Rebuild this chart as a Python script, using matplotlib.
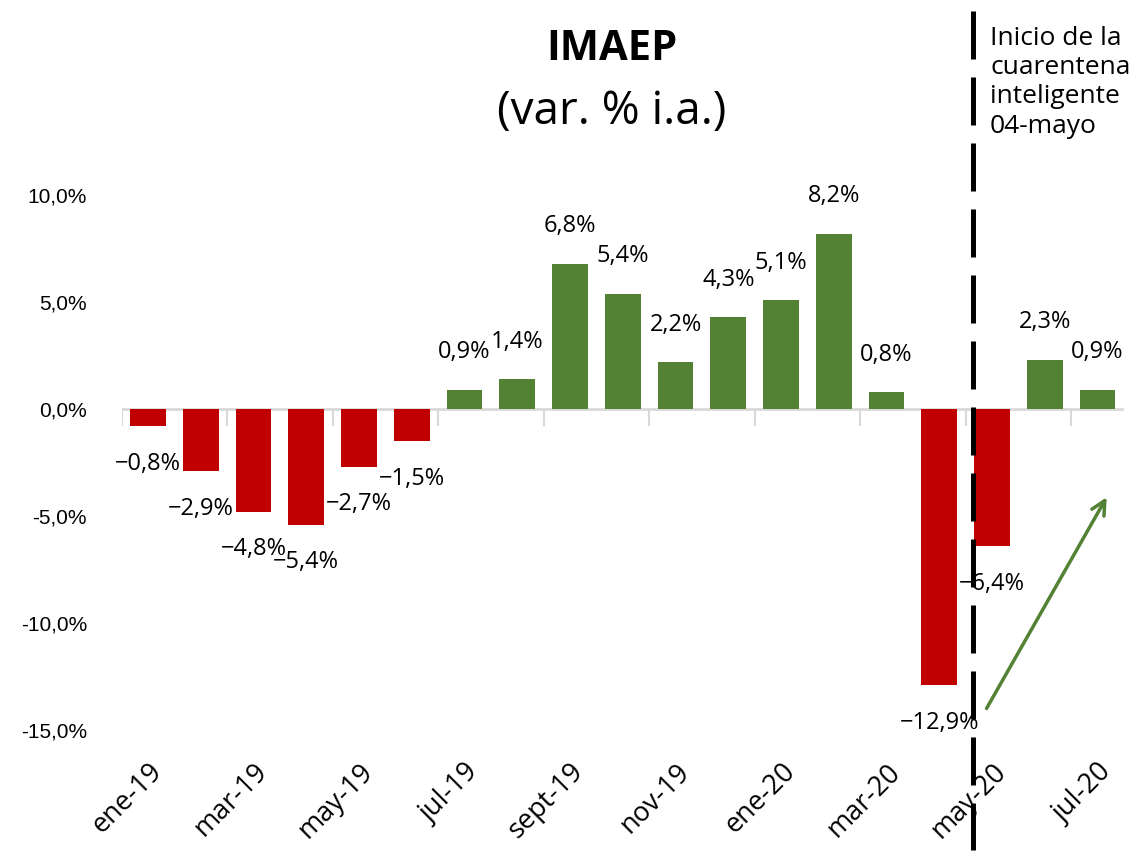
import numpy as np
import matplotlib.pyplot as plt
from matplotlib.ticker import FuncFormatter

plt.rcParams['font.family'] = ['Open Sans', 'DejaVu Sans']

# datos
meses = ['ene-19', 'feb-19', 'mar-19', 'abr-19', 'may-19', 'jun-19', 'jul-19',
         'ago-19', 'sept-19', 'oct-19', 'nov-19', 'dic-19', 'ene-20', 'feb-20',
         'mar-20', 'abr-20', 'may-20', 'jun-20', 'jul-20']
imaep = [-0.8, -2.9, -4.8, -5.4, -2.7, -1.5, 0.9, 1.4, 6.8, 5.4, 2.2, 4.3,
         5.1, 8.2, 0.8, -12.9, -6.4, 2.3, 0.9]
nota = 'Inicio de la\ncuarentena\ninteligente\n04-mayo'

rojo = '#C00000'
verde = '#548235'

fig = plt.figure(figsize=(11.48, 8.56), dpi=100)
ax = fig.add_axes([0.106, 0.147, 0.873, 0.625])

x = np.arange(len(imaep))
colores = [verde if v >= 0 else rojo for v in imaep]
ax.bar(x, imaep, width=0.68, color=colores, zorder=2)

# etiquetas de datos
for xi, v in zip(x, imaep):
    txt = f'{v:.1f}%'.replace('.', ',').replace('-', '\u2212')
    off = 27 if v >= 0 else -27
    ax.annotate(txt, (xi, v), xytext=(0, off), textcoords='offset points',
                ha='center', va='center', fontsize=17, zorder=5,
                annotation_clip=False)

ax.set_xlim(-0.5, len(imaep) - 0.5)
ax.set_ylim(-15, 10)
ax.set_yticks([-15, -10, -5, 0, 5, 10])
ax.yaxis.set_major_formatter(FuncFormatter(lambda v, p: f'{v:.1f}%'.replace('.', ',')))
ax.tick_params(axis='y', length=0, labelsize=15, pad=25)
for lbl in ax.get_yticklabels():
    lbl.set_family(['Liberation Sans', 'DejaVu Sans'])

# eje x en el cero
for s in ['top', 'right', 'left', 'bottom']:
    ax.spines[s].set_visible(False)
ax.axhline(0, color='#D9D9D9', lw=2, zorder=1)
ax.set_xticks(x[::2])
ax.set_xticklabels(meses[::2], rotation=45, ha='right', rotation_mode='anchor',
                   fontsize=19.5)
ax.tick_params(axis='x', length=0, pad=20)
for b in np.arange(-0.5, len(imaep), 2):
    ax.plot([b, b], [0, -0.75], color='#D9D9D9', lw=1.5, zorder=1)

# linea de cuarentena
ax.plot([15.63, 15.63], [18.6, -20.6], color='black', lw=3.6,
        dashes=(9.6, 3.6), clip_on=False, zorder=4)
fig.text(990 / 1148, 1 - 26 / 856, nota, fontsize=19, va='top', ha='left',
         linespacing=1.22)

# flecha
ax.annotate('', xy=(18.2, -4.0), xytext=(15.87, -14.1),
            arrowprops=dict(arrowstyle='->', color=verde, lw=2.5,
                            mutation_scale=25))

fig.text(612 / 1148, 1 - 50 / 856, 'IMAEP', fontsize=30, fontweight='bold',
         ha='center', va='center')
fig.text(612 / 1148, 1 - 112 / 856, '(var. % i.a.)', fontsize=33,
         ha='center', va='center')

fig.savefig('out.png', dpi=100)
